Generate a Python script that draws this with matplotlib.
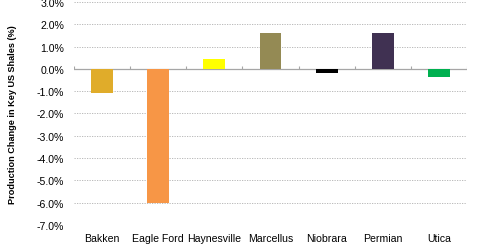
import numpy as np
import matplotlib
matplotlib.use("Agg")
import matplotlib.pyplot as plt

# --- DATA ---
shales = ["Bakken", "Eagle Ford", "Haynesville", "Marcellus", "Niobrara", "Permian", "Utica"]
change_pct = [-1.08, -6.0, 0.46, 1.6, -0.2, 1.63, -0.36]
bar_colors = ["#E0AC2A", "#F79646", "#FFFF00", "#948A54", "#000000", "#403152", "#00B050"]
y_ticks = [3, 2, 1, 0, -1, -2, -3, -4, -5, -6, -7]

plt.rcParams['font.family'] = ['Liberation Sans', 'DejaVu Sans']

fig = plt.figure(figsize=(4.8, 2.51), dpi=100)
ax = fig.add_axes([0.154, 0.1, 0.819, 0.888])

x = np.arange(len(shales))
ax.bar(x, change_pct, width=0.39, color=bar_colors, zorder=3)

ax.set_xlim(-0.5, len(shales) - 0.5)
ax.set_ylim(-7, 3)
ax.set_yticks(y_ticks)
ax.set_yticklabels([f"{v:.1f}%" for v in y_ticks])
ax.set_xticks(x)
ax.set_xticklabels(shales)

# dotted gridlines
for v in y_ticks:
    if v != 0:
        ax.axhline(v, color="#B0B0B0", linestyle=(0, (1.5, 1.5)), linewidth=0.6, zorder=1)

# zero axis line with small tick marks between categories
ax.axhline(0, color="#A6A6A6", linewidth=0.9, zorder=2)
bounds = np.arange(len(shales) + 1) - 0.5
ax.vlines(bounds, 0, 0.12, color="#A6A6A6", linewidth=0.8, zorder=2)

for s in ax.spines.values():
    s.set_visible(False)
ax.tick_params(axis="both", length=0, labelsize=7.6, colors="#000000")
ax.tick_params(axis="x", pad=6)
ax.tick_params(axis="y", pad=7)

ax.set_ylabel("Production Change in Key US Shales (%)", fontsize=6.6, fontweight="bold", labelpad=14)

fig.savefig("out.png", dpi=100)
